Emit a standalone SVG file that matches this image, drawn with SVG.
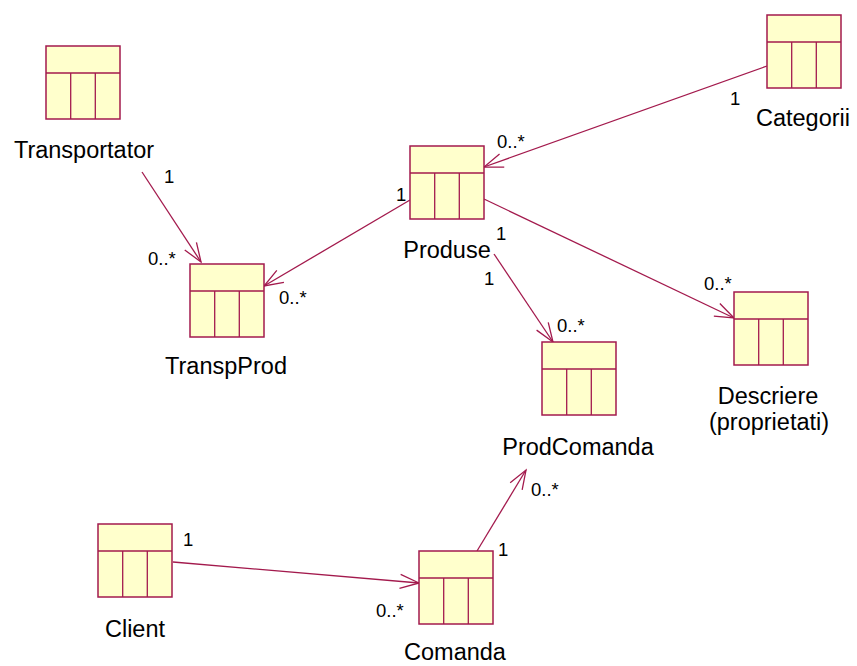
<svg xmlns="http://www.w3.org/2000/svg" width="857" height="666" viewBox="0 0 857 666">
<style>
.box{fill:#FFFFCC;stroke:#A31A4D;stroke-width:1.5}
.ln{stroke:#A31A4D;stroke-width:1.3;fill:none}
.lbl{font-family:"Liberation Sans",Arial,sans-serif;font-size:23.5px;fill:#000}
.mul{font-family:"Liberation Sans",Arial,sans-serif;font-size:18.5px;fill:#000}
</style>
<defs>
<marker id="arr" markerUnits="userSpaceOnUse" markerWidth="30" markerHeight="30" refX="20" refY="10" orient="auto" viewBox="0 0 30 20" overflow="visible">
<path d="M1,3 L20,10 L1,17" fill="none" stroke="#A31A4D" stroke-width="1.3"/>
</marker>
<g id="cls">
<rect class="box" x="0" y="0" width="74" height="73"/>
<line class="ln" x1="0" y1="27" x2="74" y2="27"/>
<line class="ln" x1="24.7" y1="27" x2="24.7" y2="73"/>
<line class="ln" x1="49.3" y1="27" x2="49.3" y2="73"/>
</g>
</defs>
<g id="connectors">
<line class="ln" x1="142" y1="172" x2="201" y2="262" marker-end="url(#arr)"/>
<line class="ln" x1="767" y1="66" x2="484" y2="167" marker-end="url(#arr)"/>
<line class="ln" x1="410" y1="200" x2="264" y2="286" marker-end="url(#arr)"/>
<line class="ln" x1="484" y1="199" x2="734" y2="318" marker-end="url(#arr)"/>
<line class="ln" x1="494" y1="254" x2="553" y2="342" marker-end="url(#arr)"/>
<line class="ln" x1="173" y1="562" x2="419" y2="583" marker-end="url(#arr)"/>
<line class="ln" x1="477" y1="551" x2="526" y2="470" marker-end="url(#arr)"/>
</g>
<g id="Transportator">
<use href="#cls" x="46" y="46"/>
<text class="lbl" x="84" y="158" text-anchor="middle">Transportator</text>
</g>
<g id="Categorii">
<use href="#cls" x="767" y="15"/>
<text class="lbl" x="803" y="126" text-anchor="middle">Categorii</text>
</g>
<g id="Produse">
<use href="#cls" x="410" y="146"/>
<text class="lbl" x="447" y="258" text-anchor="middle">Produse</text>
</g>
<g id="TranspProd">
<use href="#cls" x="190" y="264"/>
<text class="lbl" x="226" y="374" text-anchor="middle">TranspProd</text>
</g>
<g id="ProdComanda">
<use href="#cls" x="542" y="342"/>
<text class="lbl" x="578" y="455" text-anchor="middle">ProdComanda</text>
</g>
<g id="Descriere">
<use href="#cls" x="734" y="292"/>
<text class="lbl" text-anchor="middle"><tspan x="768" y="404">Descriere</tspan><tspan x="769" y="430">(proprietati)</tspan></text>
</g>
<g id="Client">
<use href="#cls" x="98" y="524"/>
<text class="lbl" x="135" y="637" text-anchor="middle">Client</text>
</g>
<g id="Comanda">
<use href="#cls" x="419" y="551"/>
<text class="lbl" x="455" y="660" text-anchor="middle">Comanda</text>
</g>
<g id="multiplicities">
<text class="mul" x="164" y="183">1</text>
<text class="mul" x="148" y="265">0..*</text>
<text class="mul" x="730" y="105">1</text>
<text class="mul" x="497" y="148">0..*</text>
<text class="mul" x="396" y="201">1</text>
<text class="mul" x="279" y="304">0..*</text>
<text class="mul" x="496" y="240">1</text>
<text class="mul" x="704" y="290">0..*</text>
<text class="mul" x="484" y="285">1</text>
<text class="mul" x="557" y="332">0..*</text>
<text class="mul" x="183" y="546">1</text>
<text class="mul" x="376" y="617">0..*</text>
<text class="mul" x="498" y="556">1</text>
<text class="mul" x="531" y="496">0..*</text>
</g>
</svg>
